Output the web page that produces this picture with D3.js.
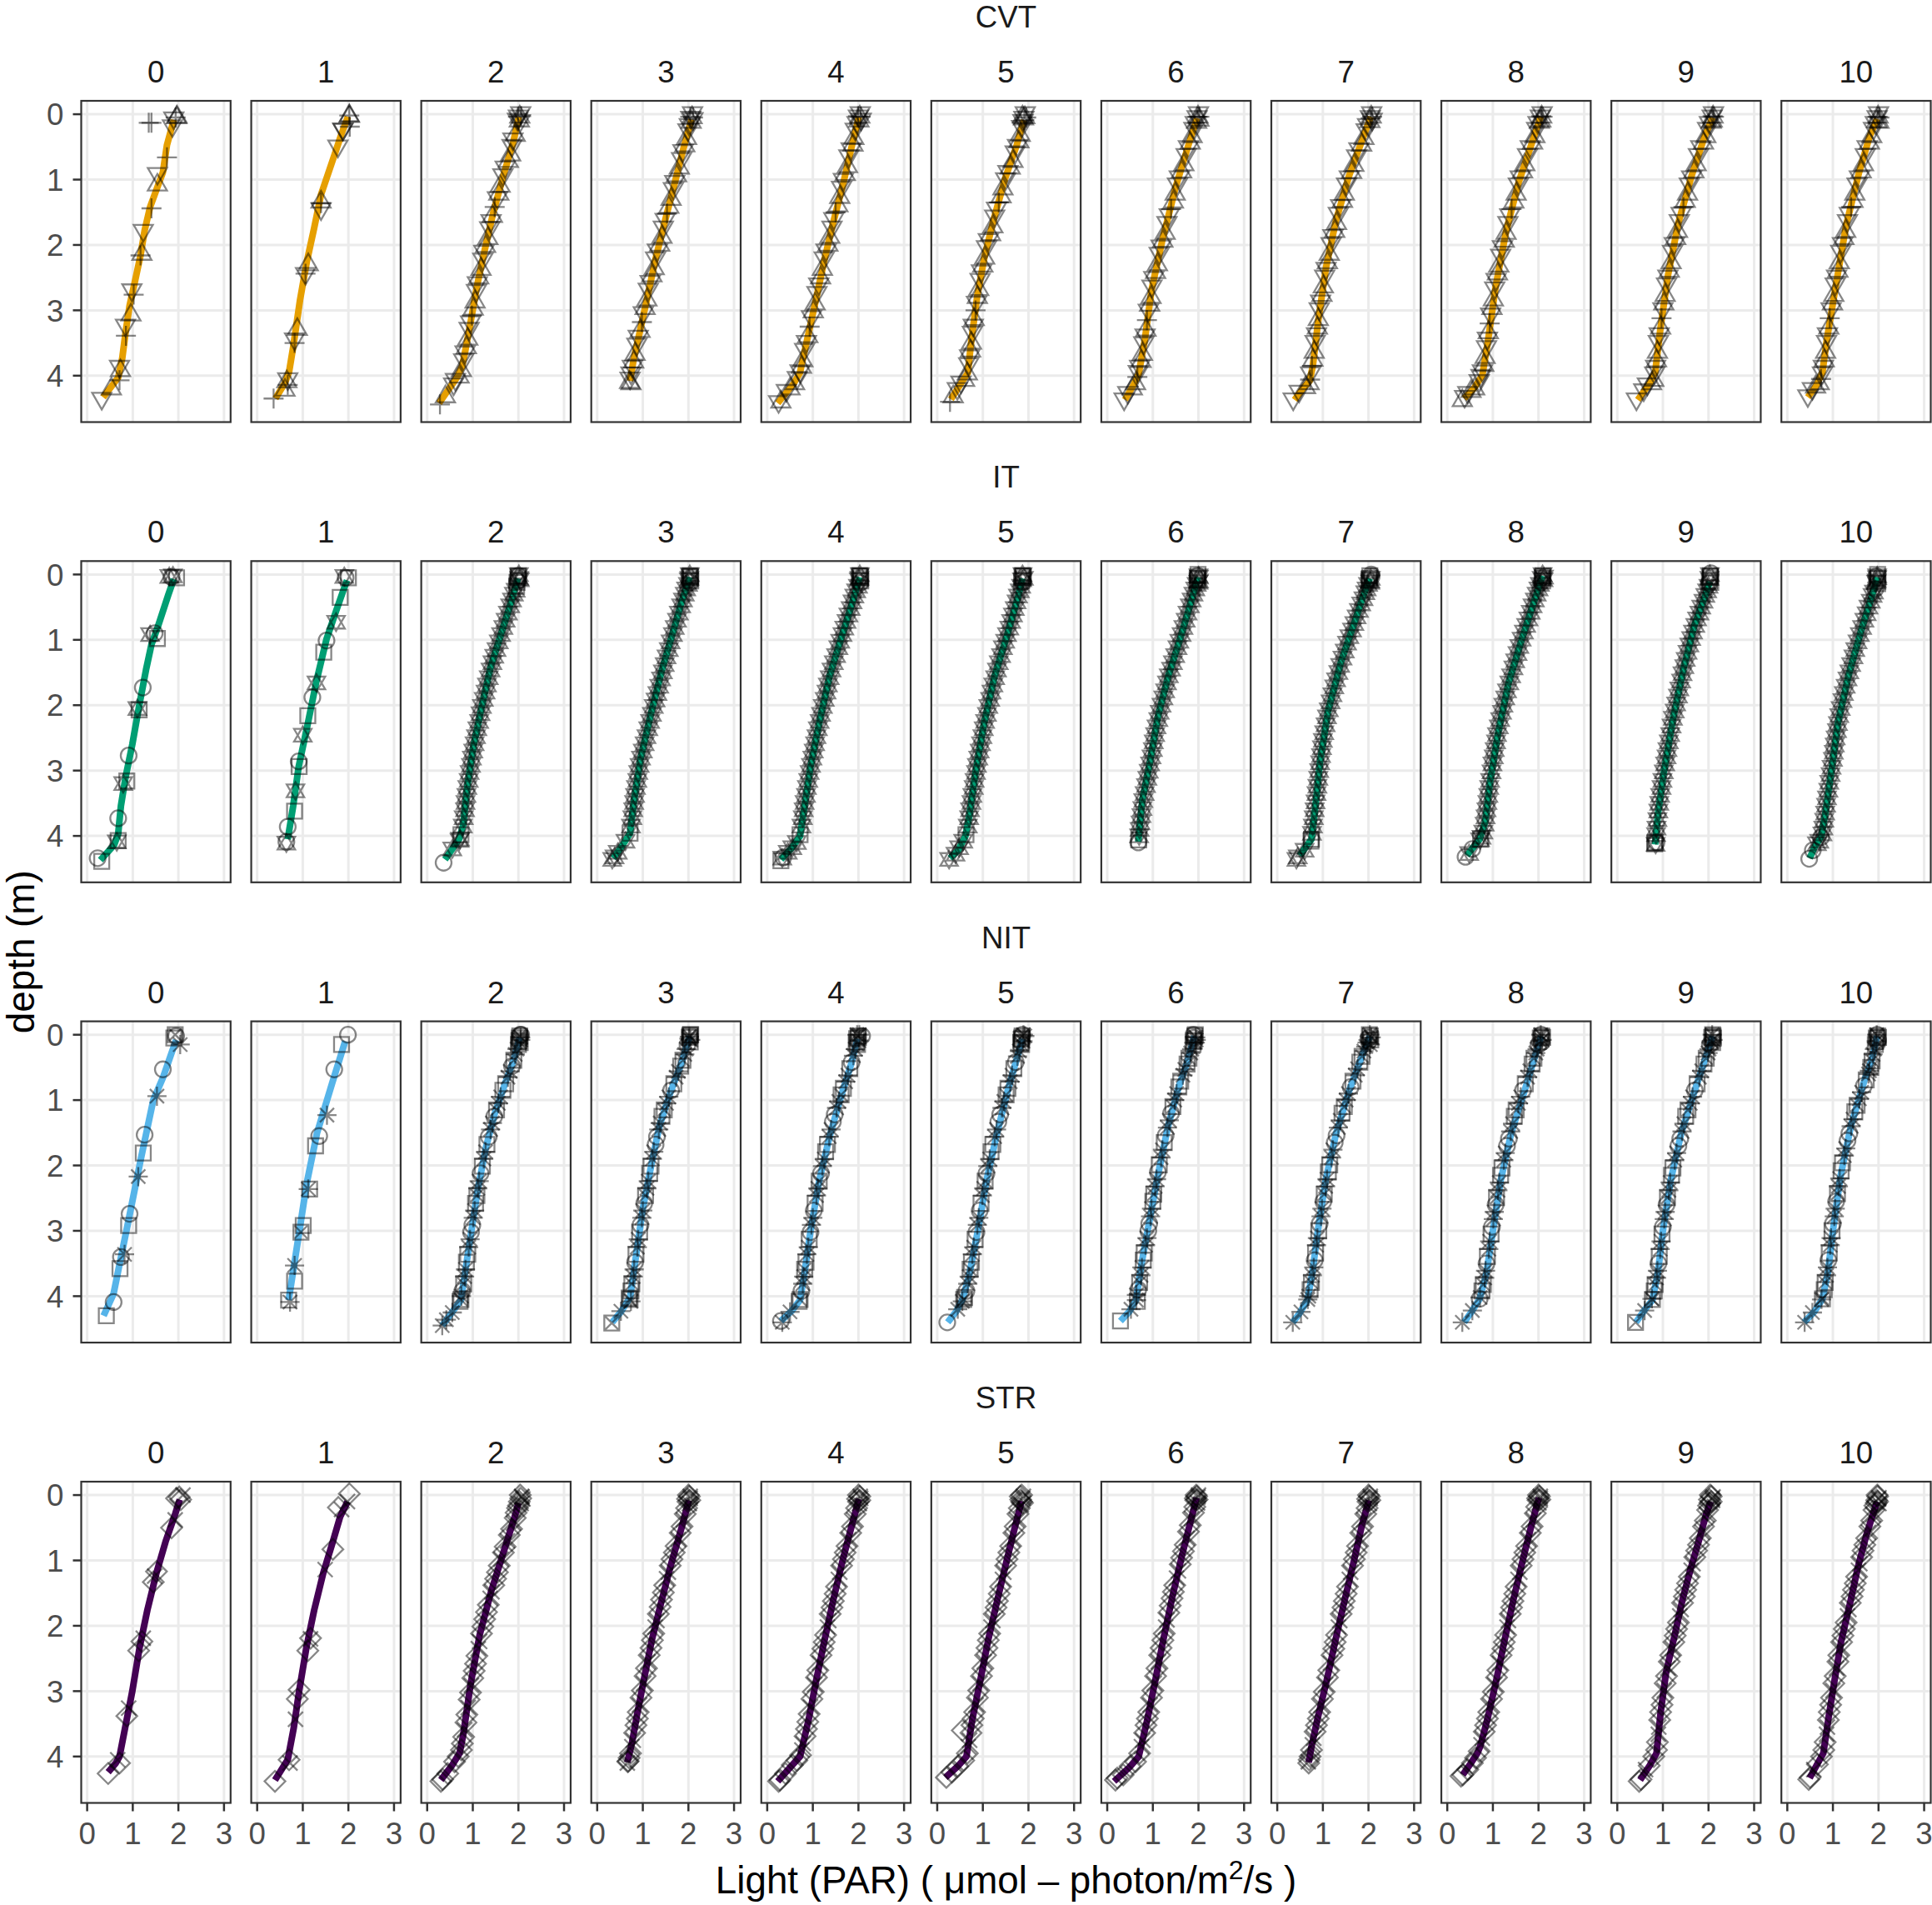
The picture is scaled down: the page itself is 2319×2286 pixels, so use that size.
<!DOCTYPE html>
<html><head><meta charset="utf-8">
<script src="https://cdn.jsdelivr.net/npm/d3@7"></script>
<style>body{margin:0;background:#fff}svg{display:block}</style>
</head><body>
<svg id="c" width="2319" height="2286"></svg>
<script>
// ---------------- DATA ----------------
const rowNames = ["CVT", "IT", "NIT", "STR"];
const colNames = ["0","1","2","3","4","5","6","7","8","9","10"];
const lineColors = ["#E69F00", "#009E73", "#56B4E9", "#440154"];
const rowShapes = [["tri","trid","plus"],["circle","square","star"],["circle","square","asterisk","sqx"],["diamond","x"]];
const xTicks = [0,1,2,3];
const yTicks = [0,1,2,3,4];

// fitted profiles: [light, depth]
const fitCVT = [
 [[1.90,0.085],[1.75,0.47],[1.66,0.89],[1.57,1.06],[1.38,1.42],[1.26,1.78],[1.17,2.16],[1.05,2.55],[0.93,2.93],[0.84,3.35],[0.77,3.73],[0.68,4.03],[0.35,4.33]],
 [[1.99,0.04],[1.85,0.30],[1.73,0.55],[1.40,1.23],[1.25,1.74],[1.09,2.25],[0.94,2.84],[0.79,3.56],[0.70,3.94],[0.61,4.11],[0.40,4.35]],
 [[2.01,0.04],[1.88,0.45],[1.69,0.89],[1.45,1.5],[1.28,2.02],[1.1,2.6],[0.96,3.15],[0.84,3.6],[0.77,3.85],[0.66,4.02],[0.26,4.42]],
 [[2.07,0.08],[1.90,0.5],[1.69,1.08],[1.48,1.65],[1.28,2.21],[1.10,2.8],[0.93,3.34],[0.80,3.75],[0.72,4.08]],
 [[2.01,0.04],[1.85,0.5],[1.66,1.08],[1.45,1.65],[1.26,2.21],[1.08,2.8],[0.91,3.34],[0.78,3.75],[0.72,3.95],[0.58,4.12],[0.23,4.42]],
 [[1.90,0.09],[1.74,0.48],[1.49,0.98],[1.25,1.58],[1.04,2.17],[0.88,2.77],[0.75,3.45],[0.67,3.96],[0.51,4.13],[0.30,4.36]],
 [[1.97,0.06],[1.79,0.45],[1.51,1.09],[1.21,1.92],[0.97,2.69],[0.82,3.47],[0.69,3.97],[0.57,4.15],[0.39,4.37]],
 [[2.05,0.04],[1.86,0.4],[1.57,0.95],[1.29,1.62],[1.07,2.34],[0.9,3.15],[0.78,3.85],[0.71,4.08],[0.56,4.2],[0.38,4.37]],
 [[2.05,0.03],[1.86,0.43],[1.57,1.03],[1.29,1.79],[1.06,2.64],[0.89,3.48],[0.77,3.99],[0.60,4.18],[0.37,4.35]],
 [[2.09,0.05],[1.91,0.35],[1.63,0.94],[1.34,1.66],[1.11,2.47],[0.94,3.31],[0.83,3.95],[0.71,4.12],[0.45,4.37]],
 [[1.97,0.07],[1.80,0.35],[1.57,0.90],[1.29,1.70],[1.06,2.64],[0.86,3.48],[0.77,3.95],[0.63,4.16],[0.45,4.33]]
];
const fitIT = [
 [[1.90,0.07],[1.78,0.31],[1.54,0.82],[1.41,1.07],[1.29,1.46],[1.14,2.01],[0.99,2.60],[0.84,3.11],[0.74,3.54],[0.68,3.97],[0.59,4.14],[0.29,4.37]],
 [[1.97,0.09],[1.88,0.26],[1.73,0.56],[1.52,0.99],[1.30,1.63],[1.09,2.35],[0.91,2.94],[0.79,3.54],[0.67,4.05]],
 [[1.99,0.06],[1.85,0.40],[1.62,0.91],[1.39,1.42],[1.20,2.01],[1.02,2.61],[0.88,3.24],[0.79,3.83],[0.70,4.05],[0.39,4.36]],
 [[2.03,0.04],[1.86,0.40],[1.65,0.91],[1.42,1.46],[1.19,2.10],[0.95,2.82],[0.81,3.45],[0.72,3.96],[0.53,4.17],[0.35,4.34]],
 [[2.03,0.04],[1.84,0.49],[1.61,1.0],[1.37,1.55],[1.14,2.27],[0.95,2.94],[0.81,3.58],[0.72,4.0],[0.53,4.19],[0.30,4.36]],
 [[1.87,0.06],[1.78,0.32],[1.54,0.91],[1.26,1.55],[1.03,2.27],[0.84,3.03],[0.70,3.71],[0.62,4.0],[0.46,4.22],[0.28,4.34]],
 [[1.99,0.04],[1.86,0.36],[1.63,0.91],[1.34,1.55],[1.11,2.18],[0.94,2.86],[0.77,3.45],[0.68,4.09]],
 [[2.03,0.06],[1.91,0.28],[1.69,0.74],[1.40,1.33],[1.11,2.10],[0.94,2.86],[0.83,3.58],[0.75,4.05],[0.49,4.30]],
 [[2.09,0.02],[1.91,0.40],[1.63,1.0],[1.34,1.67],[1.11,2.44],[0.94,3.16],[0.83,3.79],[0.71,4.05],[0.43,4.30]],
 [[2.03,0.11],[1.91,0.36],[1.69,0.78],[1.46,1.42],[1.23,2.18],[1.02,3.03],[0.89,3.67],[0.83,4.13]],
 [[1.97,0.04],[1.86,0.32],[1.63,0.83],[1.34,1.55],[1.11,2.27],[0.98,2.94],[0.83,3.67],[0.75,4.0],[0.60,4.17],[0.49,4.34]]
];
const fitNIT = [
 [[1.95,0.08],[1.66,0.66],[1.45,1.0],[1.18,1.89],[0.91,2.83],[0.69,3.58],[0.58,3.96],[0.36,4.30]],
 [[1.93,0.1],[1.64,0.75],[1.31,1.51],[1.09,2.26],[0.88,3.21],[0.69,4.06]],
 [[2.03,0.04],[1.89,0.40],[1.71,0.74],[1.48,1.21],[1.29,1.72],[1.11,2.36],[0.97,3.0],[0.83,3.64],[0.74,4.06],[0.51,4.28],[0.33,4.45]],
 [[2.03,0.02],[1.84,0.45],[1.61,0.87],[1.37,1.38],[1.19,1.98],[1.0,2.66],[0.86,3.34],[0.72,4.02],[0.53,4.23],[0.33,4.40]],
 [[1.98,0.06],[1.84,0.45],[1.61,0.96],[1.37,1.55],[1.14,2.23],[0.95,3.0],[0.81,3.68],[0.72,4.06],[0.53,4.23],[0.30,4.38]],
 [[1.87,0.06],[1.73,0.40],[1.54,0.87],[1.31,1.51],[1.08,2.23],[0.89,3.0],[0.70,3.68],[0.56,4.04],[0.42,4.23],[0.23,4.40]],
 [[1.91,0.02],[1.74,0.45],[1.57,0.79],[1.34,1.38],[1.11,2.15],[0.94,2.79],[0.77,3.43],[0.63,4.06],[0.49,4.23],[0.29,4.38]],
 [[2.03,0.02],[1.86,0.32],[1.57,0.87],[1.29,1.51],[1.06,2.23],[0.89,3.0],[0.77,3.64],[0.66,4.06],[0.49,4.26],[0.34,4.40]],
 [[2.06,0.02],[1.91,0.36],[1.69,0.87],[1.40,1.51],[1.17,2.23],[1.0,3.0],[0.86,3.64],[0.71,4.04],[0.54,4.23],[0.37,4.40]],
 [[2.09,0.02],[1.97,0.28],[1.69,0.87],[1.40,1.51],[1.17,2.23],[1.0,3.0],[0.89,3.64],[0.77,4.06],[0.60,4.21],[0.41,4.40]],
 [[1.97,0.02],[1.86,0.36],[1.69,0.70],[1.40,1.38],[1.17,2.15],[1.0,3.0],[0.89,3.64],[0.77,4.04],[0.60,4.23],[0.37,4.40]]
];
const fitSTR = [
 [[2.03,0.07],[1.93,0.29],[1.72,0.71],[1.52,1.19],[1.32,1.76],[1.15,2.33],[0.99,3.0],[0.83,3.57],[0.71,4.0],[0.63,4.10],[0.46,4.24]],
 [[1.98,0.10],[1.82,0.33],[1.66,0.71],[1.45,1.19],[1.25,1.76],[1.08,2.33],[0.92,3.0],[0.80,3.57],[0.67,4.05],[0.39,4.36]],
 [[2.0,0.12],[1.92,0.33],[1.68,0.86],[1.40,1.48],[1.15,2.14],[0.95,2.90],[0.79,3.67],[0.71,3.95],[0.54,4.14],[0.30,4.36]],
 [[2.01,0.08],[1.85,0.5],[1.61,1.08],[1.40,1.65],[1.20,2.21],[1.03,2.8],[0.88,3.34],[0.76,3.8],[0.66,4.09]],
 [[2.01,0.06],[1.86,0.45],[1.66,0.98],[1.45,1.6],[1.26,2.21],[1.07,2.85],[0.91,3.43],[0.72,4.0],[0.55,4.13],[0.23,4.38]],
 [[1.85,0.09],[1.70,0.5],[1.53,0.98],[1.32,1.6],[1.12,2.21],[0.94,2.85],[0.77,3.43],[0.64,4.0],[0.45,4.15],[0.18,4.32]],
 [[1.96,0.04],[1.81,0.45],[1.64,0.92],[1.43,1.55],[1.23,2.21],[1.05,2.85],[0.88,3.43],[0.69,4.0],[0.48,4.17],[0.15,4.38]],
 [[2.01,0.08],[1.86,0.45],[1.69,0.98],[1.48,1.6],[1.28,2.21],[1.08,2.85],[0.88,3.43],[0.75,3.85],[0.69,4.09]],
 [[2.01,0.04],[1.85,0.45],[1.66,0.98],[1.45,1.6],[1.26,2.21],[1.07,2.85],[0.88,3.43],[0.72,3.85],[0.66,3.95],[0.50,4.12],[0.34,4.28]],
 [[2.05,0.10],[1.95,0.29],[1.80,0.67],[1.62,1.10],[1.44,1.57],[1.26,2.14],[1.07,2.71],[0.95,3.33],[0.86,3.95],[0.71,4.14],[0.50,4.36]],
 [[1.97,0.10],[1.88,0.29],[1.73,0.62],[1.55,1.10],[1.37,1.67],[1.18,2.24],[1.03,2.86],[0.91,3.38],[0.79,3.95],[0.67,4.10],[0.49,4.33]]
];

// observations: [light, depth, shape index into rowShapes[row]]
const obsCVT = [
 [[1.96,0.03,0],[1.97,0.02,0],[1.90,0.08,1],[1.87,0.2,1],[1.41,0.13,2],[1.35,0.13,2],[1.94,0.05,2],[1.75,0.66,2],[1.54,0.93,1],[1.54,1.06,0],[1.41,1.44,2],[1.23,1.80,1],[1.20,2.12,0],[1.17,2.16,2],[0.98,2.71,1],[1.02,2.76,2],[0.96,3.05,0],[0.84,3.25,1],[0.85,3.39,2],[0.71,3.88,1],[0.73,3.90,0],[0.71,4.07,2],[0.53,4.18,0],[0.32,4.37,1]],
 [[2.02,0.0,0],[2.02,0.01,0],[2.02,0.02,2],[1.88,0.25,1],[1.88,0.25,1],[1.77,0.51,1],[2.03,0.19,2],[1.40,1.32,0],[1.40,1.47,1],[1.40,1.36,2],[1.12,2.28,0],[1.06,2.46,1],[1.06,2.44,2],[0.88,3.27,0],[0.82,3.46,1],[0.82,3.50,2],[0.67,4.07,1],[0.65,4.07,0],[0.67,4.14,2],[0.61,4.2,0],[0.36,4.35,2]],
 [[2.03,0.02,0],[2.0,0.05,1],[2.06,0.03,2],[1.98,0.1,1],[1.93,0.3,0],[1.86,0.5,1],[1.78,0.7,0],[1.66,0.95,1],[1.57,1.2,0],[1.48,1.42,2],[1.40,1.65,1],[1.33,1.88,0],[1.24,2.12,1],[1.18,2.35,0],[1.10,2.6,1],[1.05,2.85,0],[0.98,3.08,2],[0.92,3.3,1],[0.86,3.55,0],[0.80,3.78,1],[0.70,4.0,0],[0.58,4.15,1],[0.40,4.3,0],[0.28,4.44,2]],
 [[2.08,0.03,0],[2.05,0.07,1],[2.10,0.05,2],[2.02,0.18,1],[1.96,0.35,0],[1.88,0.58,1],[1.80,0.8,0],[1.70,1.05,1],[1.62,1.28,0],[1.53,1.52,2],[1.45,1.75,1],[1.37,1.98,0],[1.28,2.22,1],[1.20,2.45,0],[1.12,2.7,1],[1.05,2.95,0],[0.98,3.18,2],[0.90,3.42,1],[0.83,3.65,0],[0.77,3.88,1],[0.72,4.06,1],[0.74,4.1,0]],
 [[2.03,0.02,0],[2.0,0.05,1],[2.05,0.04,2],[1.97,0.15,1],[1.90,0.35,0],[1.84,0.55,1],[1.76,0.78,0],[1.67,1.02,1],[1.59,1.25,0],[1.50,1.5,2],[1.42,1.75,1],[1.33,1.98,0],[1.25,2.22,1],[1.17,2.48,0],[1.09,2.75,1],[1.01,3.0,0],[0.93,3.25,2],[0.86,3.5,1],[0.78,3.75,0],[0.72,3.95,1],[0.60,4.1,0],[0.42,4.25,1],[0.25,4.42,1],[0.30,4.38,0]],
 [[1.92,0.03,0],[1.90,0.07,1],[1.95,0.05,2],[1.88,0.12,1],[1.82,0.3,0],[1.76,0.5,1],[1.66,0.7,0],[1.55,0.9,1],[1.44,1.12,0],[1.35,1.35,2],[1.26,1.58,1],[1.17,1.82,0],[1.08,2.05,1],[1.00,2.3,0],[0.94,2.55,1],[0.88,2.78,0],[0.84,3.0,2],[0.79,3.25,1],[0.75,3.48,0],[0.71,3.72,1],[0.66,3.95,0],[0.52,4.12,1],[0.35,4.3,0],[0.28,4.4,2]],
 [[1.99,0.02,0],[1.97,0.06,1],[2.02,0.04,2],[1.93,0.15,1],[1.86,0.32,0],[1.78,0.52,1],[1.68,0.75,0],[1.58,0.98,1],[1.49,1.2,0],[1.40,1.45,2],[1.31,1.68,1],[1.22,1.92,0],[1.14,2.15,1],[1.06,2.4,0],[0.98,2.65,1],[0.93,2.9,0],[0.87,3.15,2],[0.83,3.4,1],[0.77,3.65,0],[0.71,3.88,1],[0.66,4.02,2],[0.55,4.18,0],[0.37,4.38,1]],
 [[2.06,0.02,0],[2.04,0.06,1],[2.08,0.04,2],[1.98,0.18,1],[1.90,0.35,0],[1.79,0.55,1],[1.68,0.76,0],[1.58,0.98,1],[1.47,1.2,0],[1.39,1.42,1],[1.30,1.65,0],[1.22,1.88,1],[1.14,2.12,0],[1.07,2.38,1],[1.01,2.62,0],[0.95,2.88,1],[0.90,3.12,0],[0.86,3.38,1],[0.81,3.62,0],[0.76,3.85,2],[0.72,4.06,2],[0.70,4.1,0],[0.35,4.38,1]],
 [[2.07,0.02,0],[2.04,0.05,1],[2.09,0.04,2],[1.99,0.15,1],[1.92,0.32,0],[1.82,0.52,1],[1.70,0.75,0],[1.60,0.98,1],[1.51,1.2,0],[1.41,1.45,2],[1.33,1.68,1],[1.25,1.92,0],[1.17,2.18,1],[1.10,2.42,0],[1.04,2.68,1],[0.98,2.95,0],[0.93,3.2,2],[0.88,3.45,1],[0.83,3.7,0],[0.77,3.95,1],[0.74,4.02,1],[0.60,4.18,0],[0.45,4.28,1],[0.33,4.36,0]],
 [[2.10,0.02,0],[2.08,0.05,1],[2.12,0.04,2],[2.02,0.15,1],[1.94,0.32,0],[1.83,0.52,1],[1.73,0.75,0],[1.63,0.98,1],[1.54,1.2,0],[1.45,1.42,2],[1.36,1.65,1],[1.28,1.88,0],[1.21,2.12,1],[1.14,2.38,0],[1.08,2.62,1],[1.02,2.88,0],[0.97,3.12,2],[0.92,3.38,1],[0.88,3.62,0],[0.84,3.88,1],[0.80,4.05,0],[0.66,4.15,1],[0.42,4.38,1]],
 [[1.99,0.02,0],[1.97,0.06,1],[2.02,0.05,2],[1.93,0.15,1],[1.85,0.32,0],[1.75,0.52,1],[1.67,0.75,0],[1.58,0.98,1],[1.48,1.2,0],[1.40,1.42,2],[1.32,1.65,1],[1.24,1.88,0],[1.17,2.12,1],[1.11,2.38,0],[1.05,2.62,1],[0.99,2.88,0],[0.93,3.12,2],[0.88,3.38,1],[0.84,3.62,0],[0.79,3.88,1],[0.74,4.05,2],[0.62,4.15,0],[0.45,4.33,1]]
];
// additional casts in the densely sampled panels (columns 2-10)
const obsCVTdense = [[],[],
 [[2.05,0.0,1],[2.02,0.08,0],[1.99,0.04,2],[2.04,0.12,1],[1.88,0.4,1],[1.83,0.6,0],[1.71,0.83,1],[1.60,1.08,0],[1.54,1.3,1],[1.43,1.54,0],[1.37,1.76,1],[1.28,2.0,0],[1.22,2.24,1],[1.13,2.48,0],[1.08,2.72,1],[1.01,2.96,0],[0.95,3.2,1],[0.89,3.42,0],[0.83,3.66,1],[0.75,3.9,0],[0.62,4.08,1]],
 [[2.09,0.0,1],[2.06,0.1,0],[2.04,0.04,2],[2.1,0.09,1],[1.99,0.26,1],[1.92,0.46,0],[1.85,0.7,1],[1.74,0.92,0],[1.67,1.16,1],[1.57,1.4,0],[1.49,1.63,1],[1.42,1.86,0],[1.32,2.1,1],[1.25,2.34,0],[1.16,2.58,1],[1.09,2.82,0],[1.01,3.06,1],[0.94,3.3,0],[0.87,3.54,1],[0.80,3.77,0],[0.74,3.98,1],[0.71,4.08,0]],
 [[2.04,0.0,1],[2.01,0.08,0],[1.99,0.03,2],[2.06,0.1,1],[1.93,0.25,1],[1.88,0.45,0],[1.79,0.66,1],[1.71,0.9,0],[1.63,1.14,1],[1.55,1.38,0],[1.46,1.62,1],[1.37,1.86,0],[1.29,2.1,1],[1.21,2.35,0],[1.13,2.62,1],[1.05,2.88,0],[0.97,3.12,1],[0.89,3.38,0],[0.82,3.62,1],[0.75,3.85,0],[0.66,4.05,1],[0.50,4.18,0]],
 [[1.93,0.0,1],[1.89,0.05,0],[1.91,0.09,2],[1.87,0.02,0],[1.85,0.21,1],[1.79,0.4,0],[1.71,0.6,1],[1.60,0.8,0],[1.50,1.01,1],[1.40,1.24,0],[1.30,1.46,1],[1.22,1.7,0],[1.12,1.94,1],[1.04,2.18,0],[0.97,2.42,1],[0.91,2.66,0],[0.86,2.9,1],[0.81,3.12,0],[0.77,3.36,1],[0.73,3.6,0],[0.69,3.84,1],[0.60,4.05,0],[0.44,4.22,1]],
 [[2.0,0.0,1],[1.96,0.1,0],[1.98,0.04,2],[2.01,0.07,0],[1.90,0.24,1],[1.82,0.42,0],[1.73,0.64,1],[1.63,0.86,0],[1.54,1.09,1],[1.45,1.32,0],[1.36,1.56,1],[1.27,1.8,0],[1.18,2.04,1],[1.10,2.28,0],[1.02,2.52,1],[0.96,2.78,0],[0.90,3.02,1],[0.85,3.28,0],[0.80,3.52,1],[0.74,3.76,0],[0.68,3.96,1],[0.62,4.1,0],[0.45,4.28,1]],
 [[2.07,0.0,1],[2.03,0.09,0],[2.05,0.06,2],[2.08,0.1,1],[1.95,0.26,1],[1.85,0.45,0],[1.74,0.66,1],[1.63,0.87,0],[1.52,1.09,1],[1.43,1.31,0],[1.34,1.54,1],[1.26,1.77,0],[1.18,2.0,1],[1.10,2.25,0],[1.04,2.5,1],[0.98,2.75,0],[0.92,3.0,1],[0.88,3.25,0],[0.83,3.5,1],[0.78,3.74,0],[0.73,3.98,1],[0.62,4.16,0],[0.48,4.26,1]],
 [[2.08,0.0,1],[2.05,0.08,0],[2.06,0.03,2],[2.02,0.1,0],[1.96,0.24,1],[1.87,0.42,0],[1.76,0.64,1],[1.65,0.86,0],[1.56,1.09,1],[1.46,1.32,0],[1.37,1.56,1],[1.29,1.8,0],[1.21,2.05,1],[1.13,2.3,0],[1.07,2.55,1],[1.01,2.82,0],[0.95,3.08,1],[0.90,3.32,0],[0.86,3.58,1],[0.80,3.82,0],[0.70,4.1,1],[0.52,4.22,0],[0.38,4.34,1]],
 [[2.11,0.0,1],[2.08,0.08,0],[2.09,0.03,2],[2.06,0.1,0],[1.98,0.24,1],[1.89,0.42,0],[1.78,0.64,1],[1.68,0.86,0],[1.58,1.09,1],[1.49,1.31,0],[1.40,1.54,1],[1.32,1.77,0],[1.25,2.0,1],[1.18,2.25,0],[1.11,2.5,1],[1.05,2.75,0],[1.00,3.0,1],[0.95,3.25,0],[0.90,3.5,1],[0.86,3.75,0],[0.82,3.98,1],[0.75,4.1,0],[0.58,4.24,1]],
 [[2.0,0.0,1],[1.96,0.09,0],[1.98,0.04,2],[2.01,0.1,0],[1.89,0.24,1],[1.80,0.42,0],[1.71,0.64,1],[1.62,0.86,0],[1.53,1.09,1],[1.44,1.31,0],[1.36,1.54,1],[1.28,1.77,0],[1.21,2.0,1],[1.14,2.25,0],[1.08,2.5,1],[1.02,2.75,0],[0.96,3.0,1],[0.91,3.25,0],[0.86,3.5,1],[0.81,3.75,0],[0.77,3.98,1],[0.70,4.1,0],[0.55,4.22,1]]
];
const obsIT = [
 [[1.85,0.04,0],[1.96,0.05,1],[1.80,0.03,2],[1.88,0.02,2],[1.38,0.92,2],[1.48,0.90,0],[1.54,0.98,1],[1.22,1.73,0],[1.10,2.05,2],[1.14,2.07,1],[0.91,2.77,0],[0.79,3.20,2],[0.87,3.16,1],[0.68,3.73,0],[0.65,4.09,2],[0.68,4.07,1],[0.23,4.34,0],[0.32,4.39,1]],
 [[2.0,0.05,1],[1.94,0.05,0],[1.91,0.03,2],[1.82,0.35,1],[1.73,0.73,2],[1.52,1.01,0],[1.46,1.19,1],[1.30,1.66,2],[1.21,1.88,0],[1.11,2.16,1],[1.00,2.46,2],[0.91,2.86,0],[0.92,2.94,1],[0.84,3.31,2],[0.82,3.62,1],[0.67,3.86,0],[0.64,4.11,2],[0.64,4.09,0]],
 [[2.0,0.02,1],[2.02,0.06,2],[1.98,0.1,0],[1.96,0.18,1],[1.90,0.3,2],[1.82,0.48,2],[1.72,0.7,2],[1.62,0.92,2],[1.52,1.15,2],[1.43,1.35,2],[1.35,1.58,2],[1.28,1.8,2],[1.20,2.02,2],[1.14,2.25,2],[1.07,2.48,2],[1.01,2.7,2],[0.96,2.92,2],[0.91,3.15,2],[0.86,3.38,2],[0.83,3.6,2],[0.78,3.85,2],[0.72,4.05,2],[0.71,4.07,2],[0.36,4.41,0]],
 [[2.04,0.02,1],[2.02,0.06,2],[2.05,0.1,1],[1.99,0.15,2],[1.92,0.3,2],[1.84,0.48,2],[1.75,0.7,2],[1.66,0.92,2],[1.57,1.15,2],[1.48,1.38,2],[1.40,1.6,2],[1.32,1.82,2],[1.24,2.02,2],[1.16,2.25,2],[1.08,2.48,2],[1.00,2.7,2],[0.93,2.92,2],[0.88,3.15,2],[0.83,3.38,2],[0.79,3.6,2],[0.74,3.85,2],[0.62,4.08,2],[0.45,4.25,2],[0.33,4.36,2]],
 [[2.04,0.02,1],[2.02,0.06,2],[2.05,0.1,1],[1.99,0.18,2],[1.91,0.33,2],[1.83,0.52,2],[1.74,0.72,2],[1.65,0.92,2],[1.56,1.12,2],[1.46,1.35,2],[1.37,1.58,2],[1.30,1.8,2],[1.22,2.02,2],[1.15,2.25,2],[1.08,2.48,2],[1.02,2.7,2],[0.96,2.92,2],[0.90,3.15,2],[0.85,3.38,2],[0.80,3.6,2],[0.75,3.85,2],[0.65,4.1,2],[0.45,4.25,2],[0.30,4.38,1],[0.33,4.34,2]],
 [[1.88,0.02,1],[1.90,0.06,2],[1.85,0.1,1],[1.84,0.18,2],[1.77,0.33,2],[1.70,0.52,2],[1.62,0.72,2],[1.53,0.92,2],[1.44,1.12,2],[1.35,1.35,2],[1.27,1.58,2],[1.19,1.8,2],[1.12,2.02,2],[1.05,2.25,2],[0.99,2.48,2],[0.93,2.7,2],[0.87,2.92,2],[0.82,3.15,2],[0.77,3.38,2],[0.72,3.6,2],[0.67,3.85,2],[0.57,4.08,2],[0.40,4.28,2],[0.26,4.36,2]],
 [[2.0,0.02,2],[1.98,0.06,1],[2.01,0.1,2],[1.96,0.15,2],[1.89,0.3,2],[1.81,0.48,2],[1.72,0.7,2],[1.63,0.92,2],[1.54,1.12,2],[1.44,1.35,2],[1.35,1.55,2],[1.27,1.78,2],[1.19,2.0,2],[1.12,2.22,2],[1.05,2.45,2],[1.00,2.68,2],[0.94,2.9,2],[0.88,3.12,2],[0.82,3.35,2],[0.77,3.58,2],[0.73,3.8,2],[0.70,4.0,2],[0.68,4.1,0]],
 [[2.06,0.0,0],[2.02,0.06,1],[2.04,0.1,2],[1.99,0.15,2],[1.93,0.28,2],[1.84,0.45,2],[1.74,0.65,2],[1.64,0.85,2],[1.53,1.05,2],[1.43,1.28,2],[1.34,1.5,2],[1.25,1.72,2],[1.17,1.95,2],[1.09,2.18,2],[1.03,2.42,2],[0.98,2.65,2],[0.94,2.88,2],[0.90,3.12,2],[0.86,3.35,2],[0.82,3.6,2],[0.78,3.85,2],[0.75,4.05,1],[0.45,4.32,2],[0.42,4.36,2]],
 [[2.09,0.0,2],[2.08,0.04,1],[2.11,0.08,2],[2.03,0.15,2],[1.96,0.3,2],[1.87,0.48,2],[1.78,0.68,2],[1.68,0.88,2],[1.58,1.1,2],[1.49,1.32,2],[1.40,1.55,2],[1.31,1.78,2],[1.23,2.0,2],[1.16,2.22,2],[1.09,2.45,2],[1.04,2.68,2],[0.99,2.9,2],[0.94,3.15,2],[0.90,3.38,2],[0.86,3.6,2],[0.82,3.82,2],[0.75,4.02,2],[0.72,4.06,2],[0.55,4.2,0],[0.40,4.32,0]],
 [[2.05,-0.02,0],[2.04,0.04,1],[2.02,0.1,1],[2.0,0.18,2],[1.93,0.32,2],[1.84,0.5,2],[1.75,0.68,2],[1.66,0.88,2],[1.58,1.08,2],[1.50,1.3,2],[1.43,1.52,2],[1.36,1.75,2],[1.29,1.98,2],[1.22,2.2,2],[1.16,2.45,2],[1.10,2.68,2],[1.05,2.9,2],[0.99,3.15,2],[0.94,3.38,2],[0.90,3.62,2],[0.86,3.88,2],[0.83,4.1,1],[0.84,4.13,2]],
 [[1.98,0.0,1],[1.97,0.05,2],[1.95,0.12,2],[1.93,0.22,0],[1.87,0.32,2],[1.78,0.5,2],[1.69,0.7,2],[1.59,0.92,2],[1.49,1.15,2],[1.40,1.38,2],[1.32,1.6,2],[1.24,1.82,2],[1.17,2.05,2],[1.11,2.28,2],[1.06,2.5,2],[1.02,2.72,2],[0.97,2.95,2],[0.92,3.18,2],[0.87,3.42,2],[0.83,3.65,2],[0.79,3.88,2],[0.74,4.02,0],[0.65,4.12,2],[0.48,4.35,0]]
];
const obsITdense = [[],[],
 [[2.01,0.0,2],[1.99,0.04,1],[2.03,0.08,2],[1.97,0.12,1],[2.0,0.02,0],[1.94,0.24,2],[1.86,0.39,2],[1.77,0.59,2],[1.67,0.81,2],[1.57,1.03,2],[1.47,1.25,2],[1.39,1.46,2],[1.31,1.69,2],[1.24,1.91,2],[1.17,2.13,2],[1.10,2.36,2],[1.04,2.59,2],[0.98,2.81,2],[0.93,3.03,2],[0.88,3.26,2],[0.84,3.49,2],[0.80,3.72,2],[0.74,3.98,1],[0.55,4.2,2]],
 [[2.03,0.0,2],[2.05,0.04,1],[2.01,0.08,2],[2.04,0.12,0],[2.02,0.03,1],[1.95,0.22,2],[1.88,0.39,2],[1.79,0.59,2],[1.70,0.81,2],[1.61,1.03,2],[1.52,1.26,2],[1.44,1.49,2],[1.36,1.71,2],[1.28,1.92,2],[1.20,2.14,2],[1.12,2.36,2],[1.04,2.59,2],[0.96,2.81,2],[0.90,3.03,2],[0.85,3.26,2],[0.81,3.49,2],[0.77,3.72,2],[0.72,3.96,1],[0.38,4.32,2]],
 [[2.03,0.0,2],[2.05,0.04,1],[2.01,0.08,2],[2.04,0.13,0],[2.02,0.02,1],[1.95,0.25,2],[1.87,0.42,2],[1.78,0.62,2],[1.69,0.82,2],[1.60,1.02,2],[1.51,1.24,2],[1.41,1.46,2],[1.33,1.69,2],[1.26,1.91,2],[1.18,2.14,2],[1.11,2.36,2],[1.05,2.59,2],[0.99,2.81,2],[0.93,3.03,2],[0.87,3.26,2],[0.82,3.49,2],[0.78,3.72,2],[0.72,3.98,1],[0.55,4.18,2],[0.35,4.33,0]],
 [[1.87,0.0,2],[1.89,0.04,1],[1.86,0.08,2],[1.88,0.12,0],[1.86,0.02,1],[1.81,0.25,2],[1.74,0.42,2],[1.66,0.62,2],[1.58,0.82,2],[1.49,1.02,2],[1.40,1.24,2],[1.31,1.46,2],[1.23,1.69,2],[1.16,1.91,2],[1.09,2.14,2],[1.02,2.36,2],[0.96,2.59,2],[0.90,2.81,2],[0.85,3.03,2],[0.80,3.26,2],[0.75,3.49,2],[0.70,3.72,2],[0.63,3.98,1],[0.48,4.18,2]],
 [[1.99,0.0,1],[2.01,0.04,2],[1.97,0.08,1],[2.0,0.12,2],[1.98,0.02,0],[1.93,0.22,2],[1.85,0.39,2],[1.76,0.59,2],[1.67,0.81,2],[1.58,1.02,2],[1.49,1.24,2],[1.40,1.45,2],[1.31,1.66,2],[1.23,1.89,2],[1.15,2.11,2],[1.08,2.33,2],[1.02,2.56,2],[0.97,2.79,2],[0.91,3.01,2],[0.85,3.23,2],[0.79,3.46,2],[0.75,3.69,2],[0.71,3.9,2],[0.69,4.06,1]],
 [[2.03,0.02,1],[2.05,0.06,2],[2.01,0.09,1],[2.04,0.12,2],[2.07,0.03,0],[1.96,0.22,2],[1.89,0.37,2],[1.79,0.55,2],[1.69,0.75,2],[1.58,0.95,2],[1.48,1.17,2],[1.38,1.39,2],[1.29,1.61,2],[1.21,1.84,2],[1.13,2.07,2],[1.06,2.3,2],[1.00,2.54,2],[0.96,2.77,2],[0.92,3.0,2],[0.88,3.24,2],[0.84,3.48,2],[0.80,3.72,2],[0.76,3.96,2],[0.74,4.08,1],[0.60,4.22,2]],
 [[2.10,0.02,1],[2.07,0.06,2],[2.09,0.1,1],[2.12,0.04,2],[2.06,0.12,0],[2.0,0.22,2],[1.92,0.39,2],[1.83,0.58,2],[1.73,0.78,2],[1.63,0.99,2],[1.54,1.21,2],[1.45,1.43,2],[1.36,1.66,2],[1.27,1.89,2],[1.20,2.11,2],[1.13,2.33,2],[1.07,2.56,2],[1.02,2.79,2],[0.97,3.02,2],[0.92,3.26,2],[0.88,3.49,2],[0.84,3.71,2],[0.79,3.94,2],[0.73,4.05,1],[0.48,4.27,2]],
 [[2.04,0.02,1],[2.02,0.06,2],[2.05,0.12,1],[2.03,0.0,2],[2.01,0.14,0],[1.97,0.25,2],[1.89,0.41,2],[1.80,0.59,2],[1.71,0.78,2],[1.62,0.98,2],[1.54,1.19,2],[1.47,1.41,2],[1.40,1.63,2],[1.33,1.86,2],[1.26,2.09,2],[1.19,2.32,2],[1.13,2.56,2],[1.08,2.79,2],[1.02,3.02,2],[0.97,3.26,2],[0.92,3.5,2],[0.88,3.75,2],[0.85,3.98,2],[0.82,4.12,1],[0.86,4.1,0]],
 [[1.97,0.02,2],[1.99,0.06,1],[1.96,0.1,2],[1.98,0.14,1],[1.95,0.03,0],[1.90,0.27,2],[1.83,0.41,2],[1.74,0.6,2],[1.64,0.81,2],[1.54,1.03,2],[1.45,1.26,2],[1.36,1.49,2],[1.28,1.71,2],[1.21,1.93,2],[1.14,2.16,2],[1.09,2.39,2],[1.04,2.61,2],[1.00,2.83,2],[0.95,3.06,2],[0.90,3.3,2],[0.85,3.53,2],[0.81,3.76,2],[0.77,3.97,2],[0.70,4.08,2],[0.56,4.22,0]]
];
const obsNIT = [
 [[1.93,0.0,3],[2.04,0.15,2],[1.95,0.02,0],[1.90,0.05,1],[1.66,0.53,0],[1.53,0.94,2],[1.26,1.53,0],[1.23,1.81,1],[1.12,2.17,2],[0.93,2.74,0],[0.91,2.92,1],[0.74,3.40,0],[0.82,3.36,2],[0.72,3.58,1],[0.58,4.09,0],[0.42,4.30,1]],
 [[1.99,0.0,0],[1.85,0.15,1],[1.69,0.53,0],[1.53,1.23,2],[1.36,1.55,0],[1.28,1.70,1],[1.15,2.36,1],[1.12,2.36,2],[0.96,3.02,3],[1.01,2.92,1],[0.82,3.53,2],[0.82,3.77,1],[0.72,4.09,2],[0.69,4.06,1]],
 [[2.04,0.0,0],[2.02,0.05,1],[2.05,0.08,2],[2.0,0.15,1],[1.93,0.3,2],[1.86,0.48,0],[1.77,0.65,2],[1.66,0.85,1],[1.56,1.05,2],[1.47,1.25,0],[1.39,1.45,2],[1.31,1.68,1],[1.24,1.9,2],[1.17,2.12,0],[1.11,2.35,2],[1.06,2.58,1],[1.01,2.8,2],[0.96,3.02,0],[0.91,3.25,2],[0.86,3.48,1],[0.82,3.7,2],[0.77,3.92,0],[0.74,4.05,3],[0.72,4.08,1],[0.33,4.45,2]],
 [[2.04,0.0,1],[2.02,0.04,1],[2.05,0.08,2],[1.98,0.15,0],[1.92,0.3,2],[1.83,0.48,1],[1.73,0.65,2],[1.62,0.85,0],[1.52,1.05,2],[1.42,1.25,1],[1.35,1.45,2],[1.28,1.68,0],[1.21,1.9,2],[1.15,2.12,1],[1.09,2.35,2],[1.03,2.58,0],[0.98,2.8,2],[0.93,3.02,1],[0.88,3.25,2],[0.83,3.48,0],[0.79,3.7,2],[0.74,3.92,1],[0.72,4.05,3],[0.74,4.08,2],[0.32,4.41,3]],
 [[1.97,0.0,2],[2.0,0.04,1],[2.08,0.02,0],[1.95,0.12,1],[1.93,0.22,2],[1.85,0.42,0],[1.77,0.62,2],[1.67,0.82,1],[1.57,1.02,2],[1.48,1.22,0],[1.40,1.45,2],[1.32,1.68,1],[1.25,1.9,2],[1.18,2.12,0],[1.11,2.35,2],[1.05,2.58,1],[1.00,2.8,2],[0.95,3.02,0],[0.90,3.25,2],[0.85,3.48,1],[0.80,3.7,2],[0.75,3.92,0],[0.72,4.05,3],[0.30,4.38,0],[0.33,4.4,2]],
 [[1.87,0.0,0],[1.85,0.05,1],[1.92,0.02,2],[1.83,0.12,1],[1.80,0.25,2],[1.72,0.42,0],[1.64,0.62,2],[1.55,0.82,1],[1.46,1.02,2],[1.38,1.22,0],[1.30,1.45,2],[1.22,1.68,1],[1.15,1.9,2],[1.08,2.12,0],[1.02,2.35,2],[0.96,2.58,1],[0.91,2.8,2],[0.86,3.02,0],[0.80,3.25,2],[0.75,3.48,1],[0.70,3.7,2],[0.64,3.92,0],[0.58,4.05,3],[0.55,4.08,2],[0.22,4.4,0]],
 [[1.93,0.0,1],[1.90,0.05,0],[1.95,0.08,2],[1.88,0.15,1],[1.83,0.28,2],[1.75,0.45,3],[1.66,0.62,2],[1.57,0.8,1],[1.48,1.0,2],[1.40,1.2,0],[1.32,1.42,2],[1.25,1.65,1],[1.18,1.88,2],[1.11,2.1,0],[1.05,2.32,2],[1.00,2.55,1],[0.95,2.78,2],[0.90,3.0,0],[0.84,3.22,2],[0.79,3.45,1],[0.74,3.68,2],[0.68,3.9,0],[0.64,4.06,2],[0.66,4.08,1],[0.29,4.38,1]],
 [[2.03,0.0,2],[2.0,0.05,0],[2.05,0.08,1],[1.97,0.12,2],[1.90,0.25,2],[1.81,0.42,1],[1.71,0.62,2],[1.61,0.8,0],[1.51,1.0,2],[1.42,1.2,1],[1.34,1.42,2],[1.26,1.65,0],[1.19,1.88,2],[1.12,2.1,1],[1.06,2.32,2],[1.01,2.55,0],[0.96,2.78,2],[0.91,3.0,1],[0.86,3.22,2],[0.82,3.45,0],[0.77,3.68,2],[0.72,3.9,1],[0.67,4.05,2],[0.34,4.4,2]],
 [[2.06,0.0,0],[2.04,0.05,1],[2.08,0.08,2],[2.0,0.15,0],[1.94,0.28,2],[1.86,0.45,1],[1.76,0.65,2],[1.66,0.85,0],[1.56,1.05,2],[1.47,1.25,1],[1.39,1.48,2],[1.31,1.7,0],[1.24,1.92,2],[1.17,2.15,1],[1.11,2.38,2],[1.06,2.6,0],[1.01,2.82,2],[0.96,3.05,1],[0.91,3.28,2],[0.86,3.5,0],[0.82,3.72,2],[0.76,3.92,1],[0.71,4.04,0],[0.33,4.4,2]],
 [[2.09,0.0,1],[2.07,0.04,1],[2.10,0.08,2],[2.03,0.15,0],[1.99,0.28,2],[1.90,0.45,1],[1.80,0.65,2],[1.70,0.85,0],[1.60,1.05,2],[1.50,1.25,1],[1.42,1.48,2],[1.34,1.7,0],[1.26,1.92,2],[1.19,2.15,1],[1.13,2.38,2],[1.08,2.6,0],[1.03,2.82,2],[0.98,3.05,1],[0.94,3.28,2],[0.90,3.5,0],[0.86,3.72,2],[0.81,3.92,1],[0.77,4.05,3],[0.40,4.4,3]],
 [[1.97,0.0,0],[1.95,0.05,1],[1.99,0.08,0],[1.93,0.15,1],[1.88,0.3,2],[1.83,0.5,3],[1.78,0.6,2],[1.68,0.78,0],[1.58,0.98,2],[1.48,1.18,1],[1.40,1.4,2],[1.32,1.62,0],[1.25,1.85,2],[1.18,2.08,1],[1.12,2.32,2],[1.07,2.55,0],[1.03,2.78,2],[0.98,3.0,1],[0.94,3.22,2],[0.90,3.45,0],[0.86,3.68,2],[0.81,3.9,1],[0.77,4.04,3],[0.38,4.4,2]]
];
const obsNITdense = [[],[],
 [[2.03,0.02,3],[2.05,0.04,2],[2.01,0.09,1],[2.04,0.12,3],[2.06,0.0,0],[1.97,0.22,2],[1.90,0.39,3],[1.82,0.56,2],[1.72,0.75,1],[1.61,0.95,2],[1.52,1.15,3],[1.43,1.35,2],[1.35,1.56,0],[1.28,1.79,2],[1.21,2.01,1],[1.14,2.24,2],[1.09,2.46,3],[1.04,2.69,2],[0.99,2.91,0],[0.94,3.13,2],[0.89,3.36,1],[0.84,3.59,2],[0.80,3.81,3],[0.75,4.0,2],[0.55,4.25,2],[0.42,4.36,2]],
 [[2.03,0.02,3],[2.05,0.0,1],[2.01,0.06,2],[2.04,0.11,1],[2.02,0.03,2],[1.95,0.22,2],[1.88,0.39,3],[1.78,0.56,2],[1.68,0.75,1],[1.57,0.95,2],[1.47,1.15,3],[1.38,1.35,2],[1.31,1.56,0],[1.24,1.79,2],[1.18,2.01,1],[1.12,2.24,2],[1.06,2.46,3],[1.00,2.69,2],[0.95,2.91,0],[0.90,3.13,2],[0.85,3.36,1],[0.81,3.59,2],[0.76,3.81,3],[0.70,4.03,1],[0.52,4.23,2]],
 [[1.99,0.02,3],[2.02,0.0,2],[1.96,0.06,1],[2.01,0.09,2],[1.98,0.15,3],[1.89,0.32,2],[1.81,0.52,1],[1.72,0.72,2],[1.62,0.92,3],[1.52,1.12,2],[1.44,1.33,0],[1.36,1.56,2],[1.28,1.79,1],[1.21,2.01,2],[1.14,2.24,3],[1.08,2.46,2],[1.02,2.69,0],[0.97,2.91,2],[0.92,3.13,1],[0.87,3.36,2],[0.82,3.59,3],[0.78,3.81,2],[0.70,4.08,1],[0.50,4.24,2]],
 [[1.86,0.02,3],[1.89,0.0,2],[1.84,0.07,1],[1.88,0.1,2],[1.85,0.15,3],[1.76,0.33,2],[1.68,0.52,1],[1.60,0.72,2],[1.51,0.92,3],[1.42,1.12,2],[1.34,1.33,0],[1.26,1.56,2],[1.18,1.79,1],[1.11,2.01,2],[1.05,2.24,3],[0.99,2.46,2],[0.93,2.69,0],[0.88,2.91,2],[0.83,3.13,1],[0.77,3.36,2],[0.72,3.59,3],[0.67,3.81,2],[0.60,4.02,1],[0.45,4.2,2]],
 [[1.92,0.02,3],[1.94,0.04,2],[1.90,0.09,1],[1.93,0.12,2],[1.89,0.0,0],[1.85,0.22,2],[1.79,0.36,3],[1.70,0.53,2],[1.61,0.71,1],[1.52,0.9,2],[1.44,1.1,3],[1.36,1.31,2],[1.28,1.54,0],[1.21,1.76,2],[1.14,1.99,1],[1.08,2.21,2],[1.02,2.44,3],[0.97,2.66,2],[0.92,2.89,0],[0.87,3.11,2],[0.81,3.34,1],[0.76,3.56,2],[0.71,3.79,3],[0.64,3.98,2],[0.52,4.2,2]],
 [[2.04,0.02,3],[2.02,0.0,1],[2.06,0.04,2],[2.01,0.1,0],[2.04,0.15,2],[1.94,0.18,2],[1.86,0.33,3],[1.76,0.52,2],[1.66,0.71,1],[1.56,0.9,2],[1.47,1.1,3],[1.38,1.31,2],[1.30,1.54,0],[1.22,1.76,2],[1.15,1.99,1],[1.09,2.21,2],[1.03,2.44,3],[0.98,2.66,2],[0.93,2.89,0],[0.88,3.11,2],[0.84,3.34,1],[0.80,3.56,2],[0.75,3.79,3],[0.69,4.0,2],[0.52,4.24,2]],
 [[2.07,0.02,3],[2.05,0.0,2],[2.09,0.04,1],[2.04,0.1,2],[2.07,0.12,0],[1.97,0.22,2],[1.90,0.36,3],[1.81,0.55,2],[1.71,0.75,1],[1.61,0.95,2],[1.51,1.15,3],[1.43,1.36,2],[1.35,1.59,0],[1.27,1.81,2],[1.20,2.04,1],[1.14,2.26,2],[1.08,2.49,3],[1.03,2.71,2],[0.98,2.94,0],[0.93,3.16,2],[0.88,3.39,1],[0.84,3.61,2],[0.79,3.82,3],[0.72,4.02,2],[0.55,4.22,2]],
 [[2.10,0.02,1],[2.08,0.0,2],[2.11,0.05,1],[2.06,0.1,2],[2.09,0.12,3],[2.01,0.22,2],[1.95,0.36,3],[1.85,0.55,2],[1.75,0.75,1],[1.65,0.95,2],[1.55,1.15,3],[1.46,1.36,2],[1.38,1.59,0],[1.30,1.81,2],[1.22,2.04,1],[1.16,2.26,2],[1.10,2.49,3],[1.05,2.71,2],[1.00,2.94,0],[0.96,3.16,2],[0.92,3.39,1],[0.88,3.61,2],[0.83,3.82,3],[0.76,4.04,2],[0.60,4.22,2]],
 [[1.98,0.02,3],[1.96,0.0,2],[2.0,0.04,1],[1.95,0.1,2],[1.98,0.12,0],[1.91,0.22,2],[1.86,0.4,3],[1.80,0.55,2],[1.73,0.69,1],[1.63,0.88,2],[1.53,1.08,3],[1.44,1.29,2],[1.36,1.51,0],[1.28,1.74,2],[1.21,1.96,1],[1.15,2.2,2],[1.10,2.43,3],[1.05,2.66,2],[1.00,2.89,0],[0.96,3.11,2],[0.92,3.34,1],[0.88,3.56,2],[0.83,3.79,3],[0.75,4.05,2],[0.55,4.25,2]]
];
const obsSTR = [
 [[1.96,0.05,0],[2.02,0.03,0],[2.05,0.07,0],[2.1,0.0,1],[1.85,0.5,0],[1.93,0.38,1],[1.52,1.17,0],[1.45,1.33,0],[1.48,1.24,1],[1.20,2.24,0],[1.13,2.38,0],[1.23,2.19,1],[0.87,3.38,0],[0.91,3.26,1],[0.71,4.10,0],[0.67,4.05,1],[0.46,4.26,0]],
 [[2.02,-0.02,0],[1.98,0.1,1],[1.78,0.19,0],[1.85,0.22,1],[1.66,0.83,0],[1.49,1.14,1],[1.17,2.19,0],[1.11,2.38,0],[1.17,2.2,1],[0.92,2.98,0],[0.88,3.12,0],[0.84,3.43,1],[0.72,4.10,1],[0.70,4.05,0],[0.39,4.38,0]],
 [[2.07,0.02,1],[2.05,0.05,0],[2.10,0.06,1],[1.98,0.2,0],[1.93,0.35,0],[1.85,0.52,0],[1.76,0.7,1],[1.67,0.88,0],[1.58,1.08,0],[1.50,1.28,0],[1.42,1.48,1],[1.34,1.68,0],[1.26,1.9,0],[1.19,2.12,0],[1.12,2.35,1],[1.06,2.58,0],[1.00,2.8,0],[0.95,3.02,0],[0.90,3.25,1],[0.85,3.48,0],[0.80,3.7,0],[0.75,3.9,0],[0.60,4.08,0],[0.30,4.38,0],[0.34,4.35,0]],
 [[2.02,0.02,0],[2.04,0.05,1],[1.99,0.1,0],[1.96,0.2,0],[1.89,0.38,1],[1.82,0.58,0],[1.73,0.78,0],[1.64,0.98,0],[1.56,1.18,1],[1.48,1.38,0],[1.41,1.6,0],[1.34,1.82,0],[1.27,2.02,1],[1.21,2.22,0],[1.14,2.45,0],[1.08,2.65,0],[1.02,2.88,1],[0.96,3.1,0],[0.90,3.32,0],[0.85,3.52,0],[0.79,3.75,1],[0.73,3.95,0],[0.67,4.08,0],[0.66,4.1,1]],
 [[2.03,0.02,0],[2.05,0.05,1],[2.0,0.1,0],[1.96,0.2,0],[1.90,0.38,1],[1.83,0.58,0],[1.75,0.78,0],[1.67,0.98,0],[1.59,1.18,1],[1.52,1.4,0],[1.45,1.62,0],[1.38,1.82,0],[1.32,2.02,1],[1.25,2.25,0],[1.18,2.45,0],[1.11,2.68,0],[1.04,2.9,1],[0.98,3.12,0],[0.92,3.35,0],[0.86,3.58,0],[0.79,3.8,1],[0.73,3.98,0],[0.55,4.13,0],[0.25,4.38,0],[0.28,4.36,0]],
 [[1.82,0.02,0],[1.88,0.05,1],[1.85,0.1,0],[1.80,0.2,0],[1.74,0.38,1],[1.68,0.58,0],[1.61,0.78,0],[1.53,0.98,0],[1.46,1.18,1],[1.39,1.4,0],[1.32,1.62,0],[1.25,1.82,0],[1.18,2.02,1],[1.12,2.22,0],[1.06,2.45,0],[1.00,2.65,0],[0.94,2.88,1],[0.88,3.1,0],[0.82,3.32,0],[0.76,3.52,0],[0.71,3.75,1],[0.66,3.95,0],[0.45,4.15,0],[0.20,4.32,0],[0.55,3.6,0]],
 [[1.96,0.02,0],[2.0,0.0,1],[1.94,0.08,0],[1.92,0.18,0],[1.85,0.36,1],[1.78,0.56,0],[1.71,0.76,0],[1.63,0.96,0],[1.56,1.16,1],[1.48,1.38,0],[1.42,1.58,0],[1.35,1.8,0],[1.28,2.02,1],[1.22,2.22,0],[1.15,2.45,0],[1.09,2.65,0],[1.03,2.88,1],[0.97,3.1,0],[0.91,3.32,0],[0.85,3.52,0],[0.78,3.75,1],[0.71,3.95,0],[0.50,4.15,0],[0.18,4.36,0],[0.22,4.33,0]],
 [[2.02,0.02,0],[2.04,0.05,1],[1.99,0.1,0],[1.97,0.2,0],[1.90,0.38,1],[1.83,0.58,0],[1.76,0.78,0],[1.69,0.98,0],[1.61,1.18,1],[1.54,1.4,0],[1.47,1.62,0],[1.40,1.82,0],[1.34,2.02,1],[1.27,2.25,0],[1.20,2.45,0],[1.13,2.68,0],[1.06,2.9,1],[0.99,3.12,0],[0.93,3.32,0],[0.86,3.52,0],[0.80,3.72,1],[0.75,3.9,0],[0.70,4.05,0],[0.69,4.1,0]],
 [[2.02,0.02,0],[2.04,0.05,1],[1.99,0.08,0],[1.96,0.18,0],[1.89,0.38,1],[1.82,0.58,0],[1.74,0.78,0],[1.66,0.98,0],[1.59,1.18,1],[1.51,1.4,0],[1.44,1.62,0],[1.38,1.82,0],[1.31,2.02,1],[1.25,2.25,0],[1.18,2.45,0],[1.11,2.68,0],[1.04,2.9,1],[0.97,3.12,0],[0.91,3.32,0],[0.84,3.52,0],[0.77,3.72,1],[0.70,3.92,0],[0.55,4.1,0],[0.34,4.28,0],[0.30,4.3,0]],
 [[2.06,0.02,0],[2.10,0.03,1],[2.02,0.07,0],[2.0,0.16,0],[1.96,0.3,1],[1.89,0.48,0],[1.82,0.66,0],[1.74,0.85,0],[1.66,1.05,1],[1.58,1.25,0],[1.50,1.45,0],[1.43,1.65,0],[1.37,1.85,1],[1.30,2.05,0],[1.24,2.25,0],[1.17,2.45,0],[1.11,2.65,1],[1.05,2.88,0],[1.00,3.1,0],[0.95,3.32,0],[0.91,3.55,1],[0.88,3.78,0],[0.80,4.0,0],[0.48,4.38,0],[0.52,4.35,0]],
 [[1.98,0.02,0],[2.01,0.04,1],[1.96,0.08,0],[1.92,0.16,0],[1.88,0.3,1],[1.81,0.48,0],[1.74,0.66,0],[1.66,0.85,0],[1.59,1.05,1],[1.52,1.25,0],[1.45,1.45,0],[1.38,1.65,0],[1.32,1.85,1],[1.25,2.05,0],[1.19,2.25,0],[1.13,2.45,0],[1.08,2.65,1],[1.02,2.88,0],[0.97,3.1,0],[0.92,3.32,0],[0.88,3.55,1],[0.83,3.78,0],[0.75,4.0,0],[0.50,4.32,0],[0.47,4.35,0]]
];
const obsSTRdense = [[],[],
 [[2.04,0.0,0],[2.08,0.03,1],[2.02,0.1,0],[2.06,0.13,1],[2.0,0.16,0],[1.95,0.27,0],[1.89,0.43,1],[1.80,0.61,0],[1.71,0.79,0],[1.62,0.98,1],[1.54,1.18,0],[1.46,1.38,0],[1.38,1.58,1],[1.30,1.79,0],[1.22,2.01,0],[1.15,2.24,1],[1.09,2.46,0],[1.03,2.69,0],[0.97,2.91,1],[0.92,3.13,0],[0.87,3.36,0],[0.82,3.59,1],[0.77,3.8,0],[0.68,4.0,0],[0.45,4.26,0]],
 [[2.0,0.0,0],[2.04,0.02,1],[2.03,0.08,0],[1.98,0.06,0],[2.02,0.13,1],[1.93,0.29,0],[1.86,0.48,0],[1.78,0.68,1],[1.69,0.88,0],[1.60,1.08,0],[1.52,1.28,1],[1.45,1.49,0],[1.38,1.71,0],[1.31,1.92,1],[1.24,2.12,0],[1.18,2.34,0],[1.11,2.55,1],[1.05,2.77,0],[0.99,2.99,0],[0.93,3.21,1],[0.88,3.42,0],[0.82,3.64,0],[0.76,3.85,1],[0.70,4.02,0],[0.68,4.07,0]],
 [[2.0,0.0,0],[2.04,0.02,1],[2.03,0.08,0],[1.98,0.06,0],[2.02,0.13,1],[1.93,0.29,0],[1.87,0.48,0],[1.79,0.68,1],[1.71,0.88,0],[1.63,1.08,0],[1.56,1.29,1],[1.49,1.51,0],[1.42,1.72,0],[1.35,1.92,1],[1.28,2.14,0],[1.22,2.35,0],[1.15,2.57,1],[1.08,2.79,0],[1.01,3.01,0],[0.95,3.24,1],[0.89,3.47,0],[0.83,3.69,0],[0.76,3.9,1],[0.65,4.06,0],[0.40,4.26,0]],
 [[1.85,0.0,0],[1.89,0.02,1],[1.83,0.07,0],[1.87,0.12,0],[1.84,0.15,1],[1.77,0.29,0],[1.71,0.48,0],[1.65,0.68,1],[1.57,0.88,0],[1.50,1.08,0],[1.43,1.29,1],[1.36,1.51,0],[1.29,1.72,0],[1.22,1.92,1],[1.15,2.12,0],[1.09,2.34,0],[1.03,2.55,1],[0.97,2.77,0],[0.91,2.99,0],[0.85,3.21,1],[0.79,3.42,0],[0.74,3.64,0],[0.68,3.85,1],[0.58,4.06,0],[0.32,4.24,0]],
 [[1.95,0.0,0],[1.99,0.03,1],[1.97,0.07,0],[1.93,0.05,0],[1.98,0.12,1],[1.89,0.27,0],[1.82,0.46,0],[1.75,0.66,1],[1.67,0.86,0],[1.60,1.06,0],[1.52,1.27,1],[1.45,1.48,0],[1.38,1.69,0],[1.31,1.91,1],[1.25,2.12,0],[1.18,2.34,0],[1.12,2.55,1],[1.06,2.77,0],[1.00,2.99,0],[0.94,3.21,1],[0.88,3.42,0],[0.82,3.64,0],[0.75,3.85,1],[0.62,4.08,0],[0.35,4.28,0]],
 [[2.0,0.0,0],[2.04,0.02,1],[2.03,0.08,0],[1.98,0.06,0],[2.02,0.13,1],[1.94,0.29,0],[1.87,0.48,0],[1.80,0.68,1],[1.73,0.88,0],[1.65,1.08,0],[1.58,1.29,1],[1.51,1.51,0],[1.44,1.72,0],[1.37,1.92,1],[1.30,2.14,0],[1.24,2.35,0],[1.17,2.57,1],[1.10,2.79,0],[1.03,3.01,0],[0.96,3.22,1],[0.90,3.42,0],[0.83,3.62,0],[0.77,3.82,1],[0.72,4.0,0],[0.68,4.08,1]],
 [[2.0,0.0,0],[2.04,0.02,1],[2.03,0.07,0],[1.98,0.05,0],[2.01,0.12,1],[1.93,0.28,0],[1.86,0.48,0],[1.78,0.68,1],[1.70,0.88,0],[1.62,1.08,0],[1.55,1.29,1],[1.48,1.51,0],[1.41,1.72,0],[1.34,1.92,1],[1.28,2.14,0],[1.22,2.35,0],[1.15,2.57,1],[1.08,2.79,0],[1.01,3.01,0],[0.94,3.22,1],[0.88,3.42,0],[0.81,3.62,0],[0.74,3.82,1],[0.62,4.02,0],[0.45,4.2,0]],
 [[2.04,0.0,0],[2.08,0.05,1],[2.06,0.1,0],[2.03,0.12,0],[2.09,0.08,1],[1.98,0.23,0],[1.93,0.39,0],[1.86,0.57,1],[1.78,0.76,0],[1.70,0.95,0],[1.62,1.15,1],[1.54,1.35,0],[1.47,1.55,0],[1.40,1.75,1],[1.34,1.95,0],[1.27,2.15,0],[1.21,2.35,1],[1.14,2.55,0],[1.08,2.77,0],[1.03,2.99,1],[0.98,3.21,0],[0.93,3.44,0],[0.90,3.66,1],[0.86,3.9,0],[0.70,4.14,0],[0.62,4.2,1]],
 [[1.97,0.0,0],[2.0,0.06,1],[1.98,0.1,0],[1.95,0.12,0],[2.01,0.13,1],[1.90,0.23,0],[1.85,0.39,0],[1.78,0.57,1],[1.70,0.76,0],[1.63,0.95,0],[1.56,1.15,1],[1.49,1.35,0],[1.42,1.55,0],[1.35,1.75,1],[1.29,1.95,0],[1.22,2.15,0],[1.16,2.35,1],[1.11,2.55,0],[1.05,2.77,0],[1.00,2.99,1],[0.95,3.21,0],[0.90,3.44,0],[0.86,3.66,1],[0.80,3.9,0],[0.66,4.12,0],[0.58,4.2,1]]
];

const fits = [fitCVT, fitIT, fitNIT, fitSTR];
const obs = [
  obsCVT.map((a, i) => a.concat(obsCVTdense[i])),
  obsIT.map((a, i) => a.concat(obsITdense[i])),
  obsNIT.map((a, i) => a.concat(obsNITdense[i])),
  obsSTR.map((a, i) => a.concat(obsSTRdense[i]))
];

// ---------------- LAYOUT ----------------
const FONT = "'Liberation Sans', Arial, Helvetica, sans-serif";
const panelLeft0 = 97.5, panelPitch = 204.07, panelW = 179.3;
const rowTop = [121, 673.3, 1225.6, 1778], panelH = 385.5;
const xDomain = [-0.13, 3.145], yDomain = [-0.205, 4.71];

const svg = d3.select("#c");
svg.append("rect").attr("width", 2319).attr("height", 2286).attr("fill", "#fff");

function symPath(t) {
  const a = 11.5, b = 8.4;
  switch (t) {
    case "tri": return `M0,${-a}L${a},${b}L${-a},${b}Z`;
    case "trid": return `M0,${a}L${a},${-b}L${-a},${-b}Z`;
    case "star": { const c = 10.5, d = 7.6;
      return `M0,${-c}L${c},${d}L${-c},${d}ZM0,${c}L${c},${-d}L${-c},${-d}Z`; }
    case "plus": return `M-12,0H12M0,-12V12`;
    case "x": return `M-9,-9L9,9M-9,9L9,-9`;
    case "asterisk": return `M-11.5,0H11.5M0,-11.5V11.5M-8.5,-8.5L8.5,8.5M-8.5,8.5L8.5,-8.5`;
    case "circle": return d3.arc()({innerRadius:0,outerRadius:9.5,startAngle:0,endAngle:2*Math.PI});
    case "square": return `M-9,-9H9V9H-9Z`;
    case "sqx": return `M-9,-9H9V9H-9ZM-9,-9L9,9M-9,9L9,-9`;
    case "diamond": return `M0,-12.5L12.5,0L0,12.5L-12.5,0Z`;
  }
}

rowNames.forEach((rn, r) => {
  const top = rowTop[r];
  svg.append("text").attr("x", panelLeft0 + (10 * panelPitch + panelW) / 2).attr("y", top - 88)
    .attr("text-anchor", "middle").attr("font-family", FONT).attr("font-size", 36.7)
    .attr("fill", "#1A1A1A").text(rn);

  colNames.forEach((cn, c) => {
    const left = panelLeft0 + c * panelPitch;
    const x = d3.scaleLinear().domain(xDomain).range([left, left + panelW]);
    const y = d3.scaleLinear().domain(yDomain).range([top, top + panelH]);
    const g = svg.append("g");

    g.append("text").attr("x", left + panelW / 2).attr("y", top - 22)
      .attr("text-anchor", "middle").attr("font-family", FONT).attr("font-size", 36.7)
      .attr("fill", "#1A1A1A").text(cn);

    g.selectAll(".gx").data(xTicks).join("line")
      .attr("x1", d => x(d)).attr("x2", d => x(d)).attr("y1", top).attr("y2", top + panelH)
      .attr("stroke", "#EBEBEB").attr("stroke-width", 3);
    g.selectAll(".gy").data(yTicks).join("line")
      .attr("y1", d => y(d)).attr("y2", d => y(d)).attr("x1", left).attr("x2", left + panelW)
      .attr("stroke", "#EBEBEB").attr("stroke-width", 3);

    const line = d3.line().x(d => x(d[0])).y(d => y(d[1]));
    g.append("path").datum(fits[r][c]).attr("d", line)
      .attr("fill", "none").attr("stroke", lineColors[r]).attr("stroke-width", 8)
      .attr("stroke-linejoin", "round").attr("stroke-linecap", "butt");

    g.selectAll(".pt").data(obs[r][c]).join("path")
      .attr("transform", d => `translate(${x(d[0])},${y(d[1])})`)
      .attr("d", d => symPath(rowShapes[r][d[2]]))
      .attr("fill", "none").attr("stroke", "#000").attr("stroke-opacity", 0.47)
      .attr("stroke-width", 2.3);

    g.append("rect").attr("x", left).attr("y", top).attr("width", panelW).attr("height", panelH)
      .attr("fill", "none").attr("stroke", "#333333").attr("stroke-width", 2.2);

    if (c === 0) {
      yTicks.forEach(t => {
        g.append("line").attr("x1", left - 10).attr("x2", left).attr("y1", y(t)).attr("y2", y(t))
          .attr("stroke", "#333333").attr("stroke-width", 2.5);
        g.append("text").attr("x", left - 21).attr("y", y(t)).attr("dy", "0.36em")
          .attr("text-anchor", "end").attr("font-family", FONT).attr("font-size", 36.7)
          .attr("fill", "#4D4D4D").text(t);
      });
    }
    if (r === rowNames.length - 1) {
      xTicks.forEach(t => {
        g.append("line").attr("x1", x(t)).attr("x2", x(t)).attr("y1", top + panelH).attr("y2", top + panelH + 10)
          .attr("stroke", "#333333").attr("stroke-width", 2.5);
        g.append("text").attr("x", x(t)).attr("y", top + panelH + 49)
          .attr("text-anchor", "middle").attr("font-family", FONT).attr("font-size", 36.7)
          .attr("fill", "#4D4D4D").text(t);
      });
    }
  });
});

const xt = svg.append("text").attr("x", panelLeft0 + (10 * panelPitch + panelW) / 2).attr("y", 2272)
  .attr("text-anchor", "middle").attr("font-family", FONT).attr("font-size", 45.8).attr("fill", "#000");
xt.append("tspan").text("Light (PAR) ( μmol – photon/m");
xt.append("tspan").attr("font-size", 32).attr("dy", -17).text("2");
xt.append("tspan").attr("dy", 17).text("/s )");

svg.append("text").attr("transform", `translate(41,${(rowTop[0] + rowTop[3] + panelH) / 2}) rotate(-90)`)
  .attr("text-anchor", "middle").attr("font-family", FONT).attr("font-size", 45.8).attr("fill", "#000")
  .text("depth (m)");
</script>
</body></html>
